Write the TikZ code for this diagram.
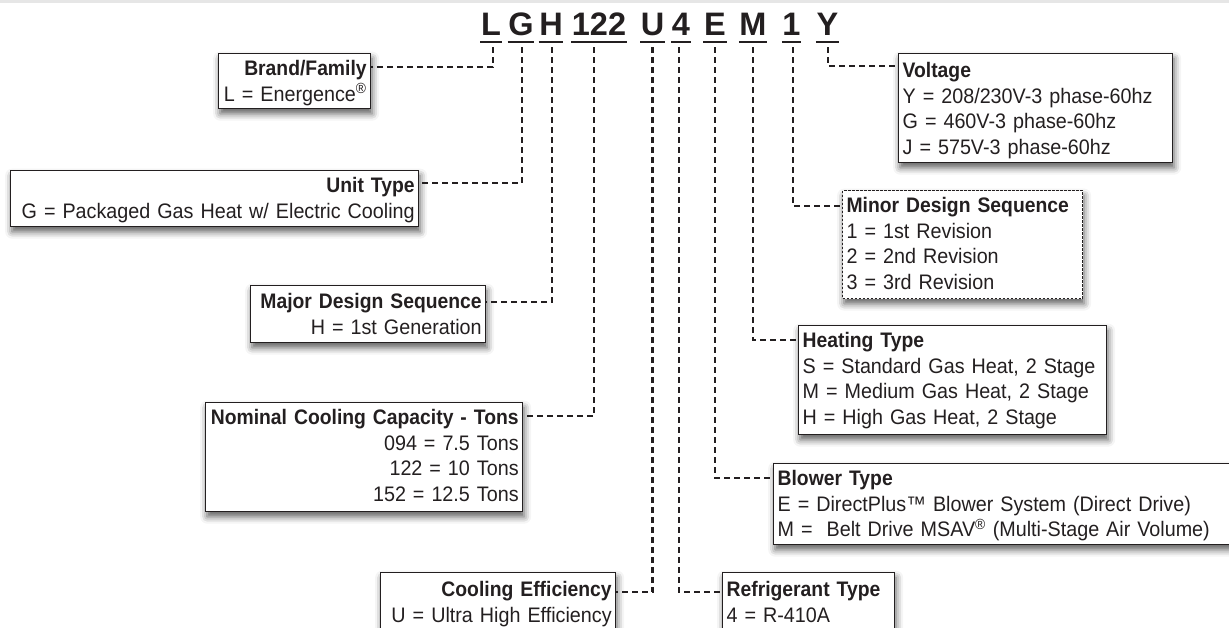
\documentclass[tikz,border=0pt]{standalone}
\usepackage{fontspec}
\setmainfont{Liberation Sans}
\newfontfamily\boxfont{Liberation Sans}[FakeStretch=0.94]
\newfontfamily\titlefont{Liberation Sans}[FakeStretch=0.92]
\usetikzlibrary{shadows.blur}
\definecolor{ink}{HTML}{231F20}
\definecolor{band}{HTML}{E6E6E6}
\newcommand\boxtitle[1]{\mbox{\titlefont\fontsize{21}{25.5}\selectfont\bfseries #1}}
\newcommand\boxline[1]{\mbox{#1}}
\newcommand\supreg{\textsuperscript{®}}
\begin{document}
\begin{tikzpicture}[x=1pt,y=-1pt,
  every node/.style={text=ink},
  code/.style={font=\fontsize{32.5}{36}\selectfont\bfseries, inner xsep=0.5pt, inner ysep=0pt, anchor=base},
  uline/.style={draw=ink, line width=2.6pt},
  infobox/.style={draw=ink, line width=1.3pt, fill=white, inner xsep=4pt, inner ysep=0pt, anchor=north west,
     font=\boxfont\fontsize{21}{25.5}\selectfont,
     blur shadow={shadow xshift=1.5pt, shadow yshift=-5pt, shadow blur radius=7pt, shadow opacity=65}},
  lbox/.style={infobox, align=right},
  rbox/.style={infobox, align=left},
  conn/.style={draw=ink, line width=2.2pt, dash pattern=on 6pt off 4pt},
]
\useasboundingbox (0,0) rectangle (1229,627);
\begin{scope}
\clip (0,0) rectangle (1229,627);
\fill[band] (0,0) rectangle (1229,2.5);

% code letters
\node[code] (cL)   at (491,35)   {L};
\node[code] (cG)   at (521,35)   {G};
\node[code] (cH)   at (551,35)   {H};
\node[code] (c122) at (599,35)   {122};
\node[code] (cU)   at (652.5,35) {U};
\node[code] (c4)   at (681,35)   {4};
\node[code] (cE)   at (715,35)   {E};
\node[code] (cM)   at (753,35)   {M};
\node[code] (c1)   at (791.5,35) {1};
\node[code] (cY)   at (827.5,35) {Y};
\foreach \n in {cL,cG,cH,c122,cU,c4,cE,cM,c1,cY}
  \draw[uline] ([yshift=-7pt]\n.base west) -- ([yshift=-7pt]\n.base east);

% left boxes
\node[lbox, text width=144pt, text height=22pt, text depth=33pt] (brand) at (218,53)
  {\boxtitle{Brand/Family}\\\boxline{L = Energence\supreg}};
\node[lbox, text width=400pt, text height=22pt, text depth=34pt] (unit) at (10,170)
  {\boxtitle{Unit Type}\\\boxline{G = Packaged Gas Heat w/ Electric Cooling}};
\node[lbox, text width=227pt, text height=23pt, text depth=34pt] (major) at (250,285)
  {\boxtitle{Major Design Sequence}\\\boxline{H = 1st Generation}};
\node[lbox, text width=309pt, text height=22pt, text depth=87pt] (nominal) at (205,402)
  {\boxtitle{Nominal Cooling Capacity - Tons}\\\boxline{094 = 7.5 Tons}\\\boxline{122 = 10 Tons}\\\boxline{152 = 12.5 Tons}};
\node[lbox, text width=227pt, text height=24pt, text depth=80pt] (cooling) at (380,572)
  {\boxtitle{Cooling Efficiency}\\\boxline{U = Ultra High Efficiency}};

% right boxes
\node[rbox, text width=266pt, text height=24pt, text depth=85pt] (voltage) at (898,53)
  {\boxtitle{Voltage}\\\boxline{Y = 208/230V-3 phase-60hz}\\\boxline{G = 460V-3 phase-60hz}\\\boxline{J = 575V-3 phase-60hz}};
\node[rbox, dash pattern=on 2.5pt off 1.5pt, line width=1.2pt, text width=232pt, text height=22pt, text depth=86pt] (minor) at (842,190)
  {\boxtitle{Minor Design Sequence}\\\boxline{1 = 1st Revision}\\\boxline{2 = 2nd Revision}\\\boxline{3 = 3rd Revision}};
\node[rbox, text width=300pt, text height=22pt, text depth=87pt] (heating) at (798,325)
  {\boxtitle{Heating Type}\\\boxline{S = Standard Gas Heat, 2 Stage}\\\boxline{M = Medium Gas Heat, 2 Stage}\\\boxline{H = High Gas Heat, 2 Stage}};
\node[rbox, text width=472pt, text height=22pt, text depth=59pt] (blower) at (773,463)
  {\boxtitle{Blower Type}\\\boxline{E = DirectPlus™ Blower System (Direct Drive)}\\\boxline{M =\ \ Belt Drive MSAV\supreg{} (Multi-Stage Air Volume)}};
\node[rbox, text width=164pt, text height=24pt, text depth=80pt] (refrig) at (722,572)
  {\boxtitle{Refrigerant Type}\\\boxline{4 = R-410A}};

% connectors
\draw[conn] ([xshift=2pt,yshift=-12pt]cL.base)    |- ([yshift=-14pt]brand.north east);
\draw[conn] ([xshift=1pt,yshift=-12pt]cG.base)    |- ([yshift=-13pt]unit.north east);
\draw[conn] ([xshift=1pt,yshift=-12pt]cH.base)    |- ([yshift=-17pt]major.north east);
\draw[conn] ([xshift=-5pt,yshift=-12pt]c122.base) |- ([yshift=-14pt]nominal.north east);
\draw[conn] ([yshift=-12pt]cU.base)               |- ([yshift=-20pt]cooling.north east);
\draw[conn] ([xshift=-2pt,yshift=-12pt]c4.base)   |- ([yshift=-20pt]refrig.north west);
\draw[conn] ([yshift=-12pt]cE.base)               |- ([yshift=-15pt]blower.north west);
\draw[conn] ([yshift=-12pt]cM.base)               |- ([yshift=-15pt]heating.north west);
\draw[conn] ([xshift=1.5pt,yshift=-12pt]c1.base)  |- ([yshift=-16pt]minor.north west);
\draw[conn] ([xshift=0.5pt,yshift=-12pt]cY.base)  |- ([yshift=-13pt]voltage.north west);
\end{scope}
\end{tikzpicture}
\end{document}
